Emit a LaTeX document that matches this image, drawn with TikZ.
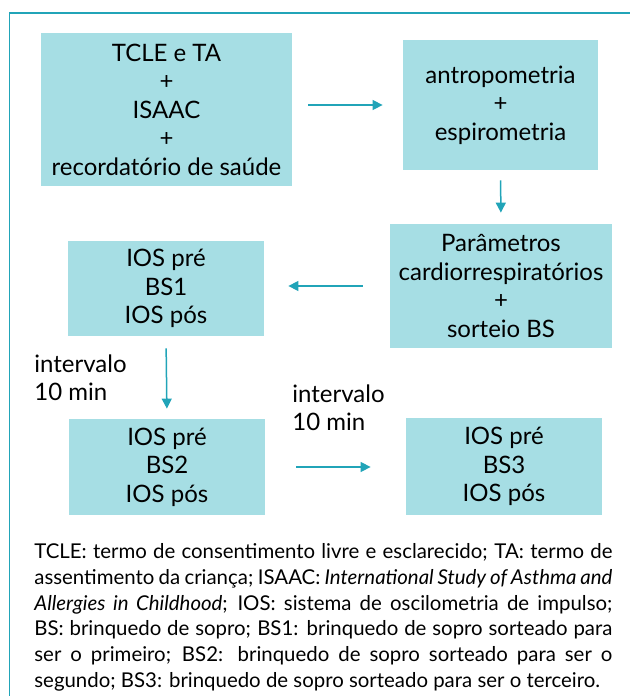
\documentclass[tikz,border=0pt]{standalone}
\usepackage{fontspec}
\setmainfont{Lato}
\usepackage{tikz}
\usetikzlibrary{arrows.meta}
\definecolor{boxfill}{RGB}{166,222,228}
\definecolor{flowline}{RGB}{33,164,184}

\begin{document}
\begin{tikzpicture}[x=0.5pt,y=-0.5pt,
  box/.style={fill=boxfill,align=center,inner sep=0pt,font=\fontsize{12}{14.25}\selectfont},
  flow/.style={draw=flowline,line width=0.75pt,-{Triangle[length=5pt,width=5pt]}},
  pause/.style={anchor=north west,align=left,inner sep=0pt,font=\fontsize{12}{14.25}\selectfont}]
  \useasboundingbox (0,0) rectangle (630,696);
  \draw[flowline,line width=0.8pt] (640,13) -- (9.5,13) -- (9.5,706);
  \node[box,minimum width=125.5pt,minimum height=76.5pt] (consent) at (166.5,109.5) {TCLE e TA\\+\\ISAAC\\+\\recordatório de saúde};
  \node[box,minimum width=97.5pt,minimum height=65pt] (anthro) at (500.5,105) {antropometria\\+\\espirometria};
  \node[box,minimum width=111pt,minimum height=62pt] (cardio) at (501,286) {Parâmetros\\cardiorrespiratórios\\+\\sorteio BS};
  \node[box,minimum width=98pt,minimum height=47.5pt] (round1) at (166,288.5) {IOS pré\\BS1\\IOS pós};
  \node[box,minimum width=98pt,minimum height=48pt] (round2) at (167,467) {IOS pré\\BS2\\IOS pós};
  \node[box,minimum width=98pt,minimum height=48.5pt] (round3) at (504,466.5) {IOS pré\\BS3\\IOS pós};
  \node[pause] (wait1) at (34,354) {intervalo\\10 min};
  \node[pause] (wait2) at (292,384) {intervalo\\10 min};
  \draw[flow,shorten <=8pt,shorten >=10pt] (consent.east |- anthro.west) -- (anthro.west);
  \draw[flow,shorten <=5pt,shorten >=5.5pt] (anthro.south) -- (cardio.north);
  \draw[flow,shorten <=13.5pt,shorten >=12pt] (cardio.west) -- (round1.east |- cardio.west);
  \draw[flow,shorten <=6pt,shorten >=5pt] (round1.south) -- (round2.north);
  \draw[flow,shorten <=15.5pt,shorten >=17.5pt] (round2.east) -- (round3.west |- round2.east);
  \node[anchor=north west,inner sep=0pt,text width=289pt,align=justify,
    font=\fontsize{10.2}{12.9}\selectfont] (legend) at (34,543) {\parfillskip=0pt
    TCLE: termo de consentimento livre e esclarecido; TA: termo de\linebreak
    assentimento da criança; ISAAC: \textit{International Study of Asthma and}\linebreak
    \textit{Allergies in Childhood}; IOS: sistema de oscilometria de impulso;\linebreak
    BS: brinquedo de sopro; BS1: brinquedo de sopro sorteado para\linebreak
    ser o primeiro; BS2: brinquedo de sopro sorteado para ser o\linebreak
    segundo; BS3: brinquedo de sopro sorteado para ser o terceiro.};
\end{tikzpicture}
\end{document}
